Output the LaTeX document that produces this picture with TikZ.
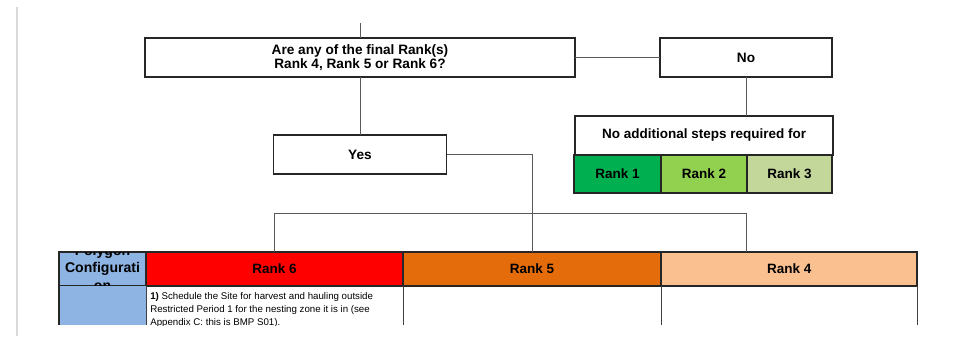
\documentclass[tikz,border=0pt]{standalone}
\usepackage{fontspec}
\setmainfont{Liberation Sans}
\usetikzlibrary{positioning,calc}

\definecolor{rankone}{RGB}{0,176,80}
\definecolor{ranktwo}{RGB}{146,208,80}
\definecolor{rankthree}{RGB}{196,215,155}
\definecolor{rankfour}{RGB}{250,192,144}
\definecolor{rankfive}{RGB}{228,108,10}
\definecolor{ranksix}{RGB}{255,0,0}
\definecolor{polyblue}{RGB}{141,180,226}

\begin{document}
\begin{tikzpicture}[x=0.025cm,y=-0.025cm,
		box/.style={draw=black!85,line width=1.3pt,fill=white,inner sep=0pt,outer sep=0pt,minimum height=0.975cm,align=center,font=\fontsize{9.7}{10.2}\selectfont\bfseries},
		cell/.style={draw=black!85,line width=1.1pt,inner sep=0pt,outer sep=0pt,minimum height=0.95cm,font=\fontsize{9.6}{10}\selectfont\bfseries},
		link/.style={draw=black!65,line width=0.7pt}]
		\useasboundingbox (0,0) rectangle (960,336);
		\draw[black!15,line width=0.8pt] (17,7) -- (17,336);

		\node[box,minimum width=10.75cm] (q) at (360,57.5) {Are any of the final Rank(s)\\Rank 4, Rank 5 or Rank 6?};
		\node[box,minimum width=4.3cm] (no) at (746,57.5) {No};
		\node[box,minimum width=4.325cm] (yes) at (360,154.5) {Yes};

		\node[cell,fill=rankone,minimum width=2.175cm] (r1) at (617.5,174) {Rank 1};
		\node[cell,fill=ranktwo,minimum width=2.15cm,right=0pt of r1] (r2) {Rank 2};
		\node[cell,fill=rankthree,minimum width=2.125cm,right=0pt of r2] (r3) {Rank 3};
		\node[cell,fill=white,minimum width=6.45cm,minimum height=0.975cm,above=0pt of r2] (steps) {No additional steps required for};

		\node[cell,fill=polyblue,minimum width=2.175cm,minimum height=0.85cm] (poly) at (102.5,269) {};
		\node[cell,fill=ranksix,minimum width=6.425cm,minimum height=0.85cm,right=0pt of poly] (r6) {Rank 6};
		\node[cell,fill=rankfive,minimum width=6.45cm,minimum height=0.85cm,right=0pt of r6] (r5) {Rank 5};
		\node[cell,fill=rankfour,minimum width=6.4cm,minimum height=0.85cm,right=0pt of r5] (r4) {Rank 4};

		% header text runs past its cell
		\begin{scope}
			\clip (poly.south west) rectangle (poly.north east);
			\node[align=center,font=\fontsize{10}{12.5}\selectfont\bfseries] (polytext) at ([yshift=0.03cm]poly.center) {Polygon\\Configurati\\on};
		\end{scope}

		% first body row, cut off at the bottom
		\coordinate (cut) at (0,325);
		\fill[polyblue] (poly.south west) rectangle (poly.south east |- cut);
		\draw[black!85,line width=1.1pt] (poly.south west) -- (poly.south west |- cut);
		\foreach \c in {poly,r6,r5,r4}
			\draw[black!75,line width=0.7pt] (\c.south east) -- (\c.south east |- cut);
		\begin{scope}
			\clip (r6.south west) rectangle (r6.south east |- cut);
			\node[anchor=north west,inner sep=0pt,align=left,font=\fontsize{6.9}{9.3}\selectfont] (step1) at (150,292) {\textbf{1)} Schedule the Site for harvest and hauling outside\\Restricted Period 1 for the nesting zone it is in (see\\Appendix C: this is BMP S01).};
		\end{scope}

		\coordinate (top) at (360,23);
		\coordinate (bus) at (0,213);
		\draw[link] (top) -- (q.north);
		\draw[link] (q.east) -- (no.west);
		\draw[link] (q.south) -- (yes.north);
		\draw[link] (no.south) -- (no.south |- steps.north);
		\draw[link] (yes.east) -| (r5.north);
		\draw[link] (r6.north) |- (no.south |- bus) -- (no.south |- r4.north);
	\end{tikzpicture}
\end{document}
